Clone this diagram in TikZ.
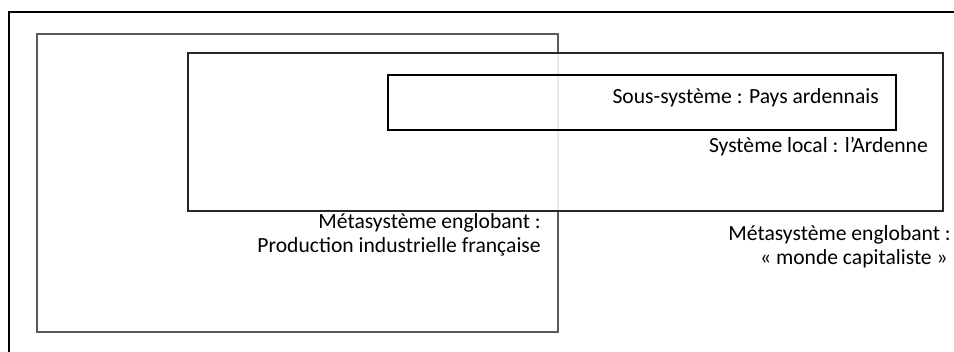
\documentclass[tikz,border=0pt]{standalone}
\usepackage{fontspec}
\setmainfont{Carlito}
\usepackage{tikz}

\begin{document}
\begin{tikzpicture}[x=0.75pt, y=-0.75pt]
			\tikzstyle{every node}=[font=\fontsize{16.2}{19}\selectfont, inner sep=0pt, anchor=east];
			\tikzstyle{cadre}=[line width=0.9pt];
			
			\useasboundingbox (0,0) rectangle (954,352);
			
			%Outer frame
			\draw[black, line width=1pt] (9,360) -- (9,12) -- (970,12);
			
			%Production industrielle
			\draw[black!65, cadre] (37,34) rectangle (558,332);
			
			%Local system
			\draw[black!85, cadre, fill=white, fill opacity=0.88] (188,53) rectangle (943,211);
			
			%Sub-system
			\draw[black, cadre] (388,75) rectangle (896,130);
			
			%Labels
			\node (sous) at (879,98) {Sous-système : Pays ardennais};
			\node (local) at (928,147) {Système local : l’Ardenne};
			\node (meta1) at (541,223) {Métasystème englobant :};
			\node (prod) at (541,247) {Production industrielle française};
			\node (meta2) at (951,235) {Métasystème englobant :};
			\node (monde) at (948,259) {« monde capitaliste »};
\end{tikzpicture}
\end{document}
